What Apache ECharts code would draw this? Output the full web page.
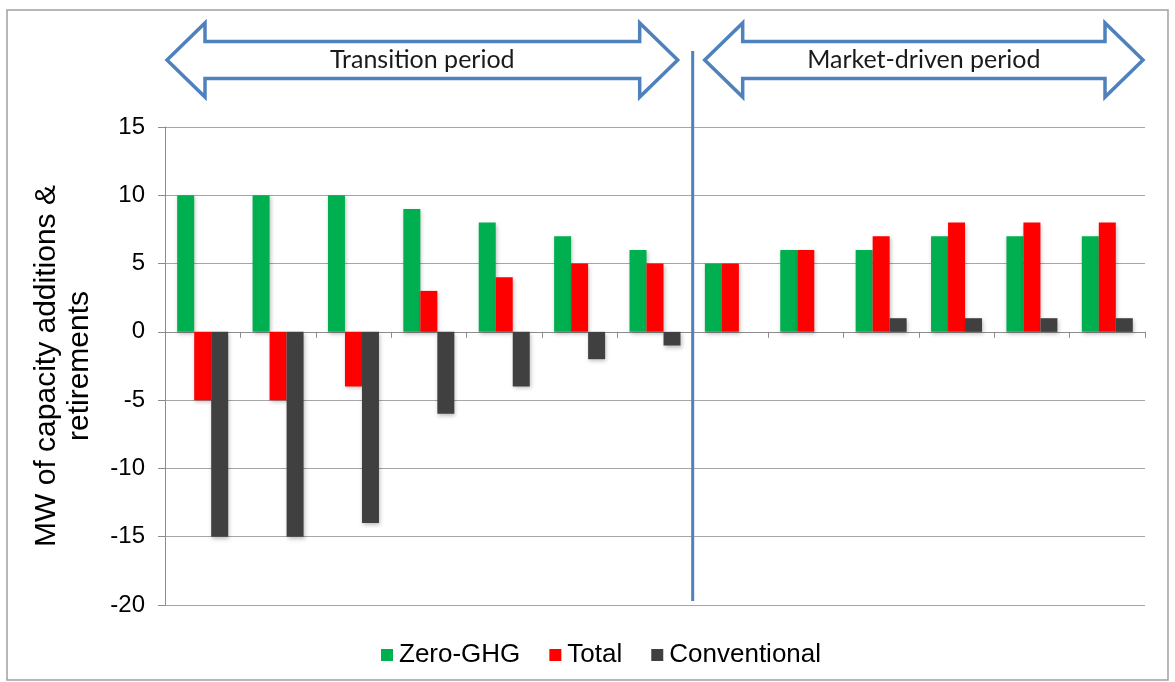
<!DOCTYPE html>
<html><head><meta charset="utf-8">
<script src="https://cdn.jsdelivr.net/npm/echarts@6/dist/echarts.min.js"></script>
<style>html,body{margin:0;padding:0;background:#fff}#c{width:1175px;height:682px}</style>
</head><body><div id="c"></div>
<script>
const categories = ['1','2','3','4','5','6','7','8','9','10','11','12','13'];
const zeroGHG = [10,10,10,9,8,7,6,5,6,6,7,7,7];
const total = [-5,-5,-4,3,4,5,5,5,6,7,8,8,8];
const conventional = [-15,-15,-14,-6,-4,-2,-1,0,0,1,1,1,1];
const yTicks = {min:-20, max:15, interval:5};
const periodLabels = ['Transition period','Market-driven period'];
const splitAfterIndex = 6;

const chart = echarts.init(document.getElementById('c'), null, {renderer:'canvas'});
const shadow = {shadowColor:'rgba(0,0,0,0.25)', shadowBlur:4, shadowOffsetY:2, shadowOffsetX:1};
const FF = 'Liberation Sans, Arial, sans-serif';
const option = {
  animation:false,
  textStyle:{fontFamily:FF},
  grid:{left:165, right:30, top:127, bottom:77, containLabel:false, outerBoundsMode:'none'},
  legend:{
    left:376, top:637, icon:'rect', itemWidth:12, itemHeight:12, itemGap:29,
    textStyle:{fontSize:26, color:'#000', fontFamily:FF, padding:[0,0,0,1]},
    data:['Zero-GHG','Total','Conventional']
  },
  xAxis:{
    type:'category', data:categories,
    axisLine:{onZero:true, lineStyle:{color:'#8c8c8c', width:1}},
    axisTick:{show:true, length:6, lineStyle:{color:'#8c8c8c'}},
    axisLabel:{show:false}, splitLine:{show:false}
  },
  yAxis:{
    type:'value', min:yTicks.min, max:yTicks.max, interval:yTicks.interval,
    name:'MW of capacity additions &\nretirements', nameLocation:'middle', nameRotate:90, nameGap:69,
    nameTextStyle:{fontSize:30, color:'#000', lineHeight:33, fontFamily:FF},
    axisLine:{show:true, lineStyle:{color:'#8c8c8c'}},
    axisTick:{show:true, length:7, lineStyle:{color:'#8c8c8c'}},
    axisLabel:{fontSize:24, color:'#000', margin:20},
    splitLine:{show:true, lineStyle:{color:'#a6a6a6', width:1}}
  },
  series:[
    {name:'Zero-GHG', type:'bar', data:zeroGHG, barWidth:17, barGap:'0%', itemStyle:Object.assign({color:'#00b050'},shadow)},
    {name:'Total', type:'bar', data:total, barWidth:17, barGap:'0%', itemStyle:Object.assign({color:'#ff0000'},shadow)},
    {name:'Conventional', type:'bar', data:conventional, barWidth:17, barGap:'0%', itemStyle:Object.assign({color:'#404040'},shadow)}
  ]
};
chart.setOption(option);

const xa = chart.convertToPixel({xAxisIndex:0}, splitAfterIndex);
const xb = chart.convertToPixel({xAxisIndex:0}, splitAfterIndex+1);
const splitX = (xa+xb)/2;
const gl = 165, gr = 1145;

function arrow(x1, x2, cy){
  const hw = 38, hh = 37, sh = 18.5;
  return [[x1,cy],[x1+hw,cy-hh],[x1+hw,cy-sh],[x2-hw,cy-sh],[x2-hw,cy-hh],[x2,cy],[x2-hw,cy+hh],[x2-hw,cy+sh],[x1+hw,cy+sh],[x1+hw,cy+hh]];
}
const arrowStyle = {fill:'#fff', stroke:'#4f81bd', lineWidth:3.5, lineJoin:'miter'};
const cy = 60;
const a1 = [gl+2, splitX-15], a2 = [splitX+12, gr-2];
const tfont = '25px Lato, "Open Sans", sans-serif';
chart.setOption({graphic:[
  {type:'rect', shape:{x:7,y:10,width:1161,height:670}, style:{fill:null, stroke:'#a0a0a0', lineWidth:1.5}, z:-1},
  {type:'line', shape:{x1:splitX, y1:51, x2:splitX, y2:601}, style:{stroke:'#4f81bd', lineWidth:3}, z:100},
  {type:'polygon', shape:{points:arrow(a1[0],a1[1],cy)}, style:arrowStyle, z:100},
  {type:'polygon', shape:{points:arrow(a2[0],a2[1],cy)}, style:arrowStyle, z:100},
  {type:'text', x:(a1[0]+a1[1])/2, y:cy, style:{text:periodLabels[0], font:tfont, fill:'#1a1a1a', align:'center', verticalAlign:'middle'}, z:101},
  {type:'text', x:(a2[0]+a2[1])/2, y:cy, style:{text:periodLabels[1], font:tfont, fill:'#1a1a1a', align:'center', verticalAlign:'middle'}, z:101}
]});
</script></body></html>
